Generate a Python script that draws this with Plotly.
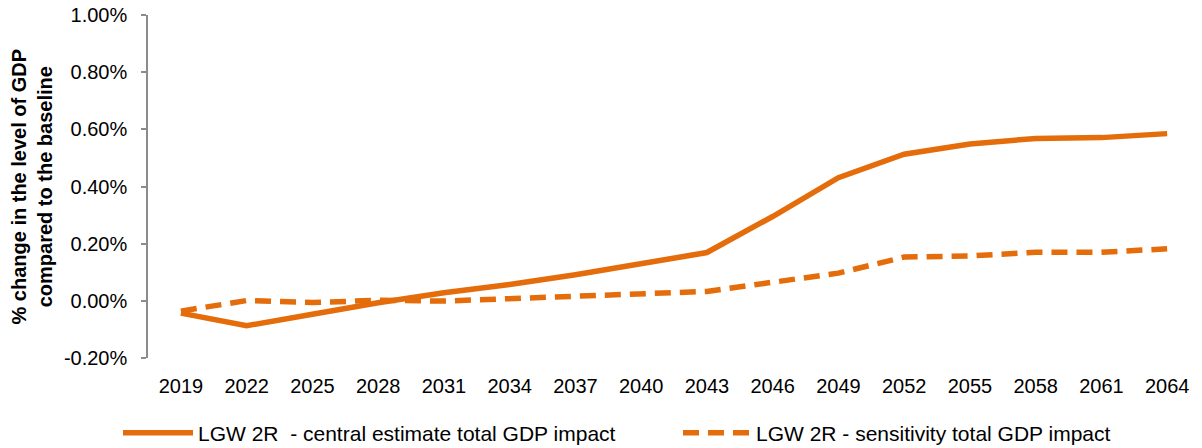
import plotly.graph_objects as go

# ---- data ----
years = [2019, 2022, 2025, 2028, 2031, 2034, 2037, 2040, 2043, 2046, 2049, 2052, 2055, 2058, 2061, 2064]
year_labels = [str(y) for y in years]
central = [-0.043, -0.087, -0.047, -0.007, 0.028, 0.057, 0.091, 0.132, 0.169, 0.295, 0.431, 0.513, 0.549, 0.568, 0.571, 0.585]
sensitivity = [-0.036, 0.001, -0.006, 0.002, -0.001, 0.008, 0.015, 0.025, 0.033, 0.065, 0.097, 0.153, 0.157, 0.170, 0.170, 0.182]
y_tick_vals = [-0.2, 0.0, 0.2, 0.4, 0.6, 0.8, 1.0]
y_tick_labels = ["-0.20%", "0.00%", "0.20%", "0.40%", "0.60%", "0.80%", "1.00%"]
name_central = "LGW 2R  - central estimate total GDP impact"
name_sens = "LGW 2R - sensitivity total GDP impact"
y_title = "% change in the level of GDP<br>compared to the baseline"

ORANGE = "#E46C0A"
AXIS = "#8C8C8C"
FONT = "Liberation Sans, Arial, sans-serif"
FS = 20
LFS = 21

step = years[1] - years[0]
x_range = [years[0] - step / 2, years[-1] + step / 2]
boundaries = [y - step / 2 for y in years] + [years[-1] + step / 2]

fig = go.Figure()
fig.add_trace(go.Scatter(x=years, y=central, mode="lines", name=name_central,
                         line=dict(color=ORANGE, width=5.5), legend="legend"))
fig.add_trace(go.Scatter(x=years, y=sensitivity, mode="lines", name=name_sens,
                         line=dict(color=ORANGE, width=5.5, dash="16px,9px"), legend="legend2"))

W, H = 1202, 448
ml, mr, mt, mb = 148, 2, 15, 90
pw = W - ml - mr
ph = H - mt - mb
legend_y = 433

fig.update_layout(
    width=W, height=H,
    margin=dict(l=ml, r=mr, t=mt, b=mb, autoexpand=False),
    paper_bgcolor="white", plot_bgcolor="white",
    font=dict(family=FONT, size=FS, color="black"),
    xaxis=dict(range=x_range, tickmode="array", tickvals=years, ticktext=year_labels,
               showline=False, ticks="", showgrid=False, zeroline=False,
               ticklabelstandoff=14, tickfont=dict(size=FS), automargin=False),
    xaxis2=dict(range=x_range, overlaying="x", anchor="free",
                position=(0 - y_tick_vals[0]) / (y_tick_vals[-1] - y_tick_vals[0]),
                tickmode="array", tickvals=boundaries, showticklabels=False,
                showline=True, linecolor=AXIS, linewidth=1.5,
                ticks="outside", ticklen=5, tickcolor=AXIS, tickwidth=1.5,
                showgrid=False, zeroline=False, automargin=False),
    yaxis=dict(range=[y_tick_vals[0], y_tick_vals[-1]], tickmode="array",
               tickvals=y_tick_vals, ticktext=y_tick_labels,
               showline=True, linecolor=AXIS, linewidth=1.5,
               ticks="outside", ticklen=5, tickcolor=AXIS, tickwidth=1.5,
               showgrid=False, zeroline=False, ticklabelstandoff=10,
               tickfont=dict(size=FS), automargin=False),
    legend=dict(orientation="h", xref="container", yref="container",
                x=118 / W, y=1 - legend_y / H,
                xanchor="left", yanchor="middle", itemwidth=70,
                font=dict(size=LFS), bgcolor="rgba(0,0,0,0)"),
    legend2=dict(orientation="h", xref="container", yref="container",
                 x=678 / W, y=1 - legend_y / H,
                 xanchor="left", yanchor="middle", itemwidth=68,
                 font=dict(size=LFS), bgcolor="rgba(0,0,0,0)"),
    showlegend=True,
)

fig.add_annotation(text="<b>" + y_title + "</b>", xref="paper", yref="paper",
                   x=-(ml - 31) / pw, y=0.5, xanchor="center", yanchor="middle",
                   textangle=-90, showarrow=False,
                   font=dict(family=FONT, size=FS, color="black"))

fig.write_html("out.html", config={"displayModeBar": False},
               post_script="document.body.style.margin='0';document.body.style.overflow='hidden';")
